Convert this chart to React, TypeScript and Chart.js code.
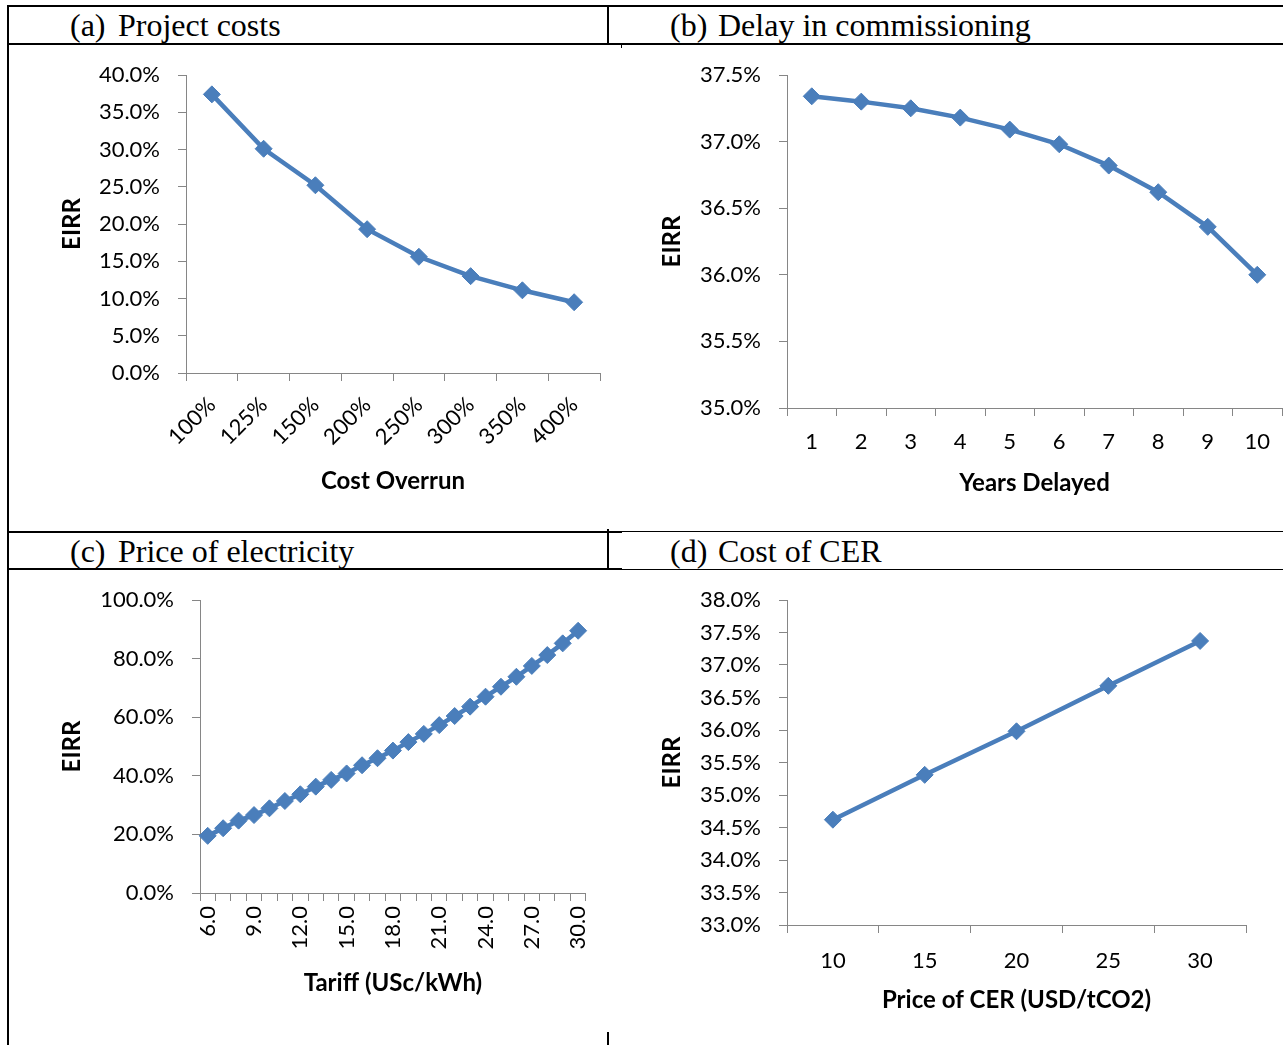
import React, { useEffect, useRef } from 'react';
import { Chart, registerables } from 'chart.js';

Chart.register(...registerables);

// ---------- Data ----------
const costLabels = ['100%', '125%', '150%', '200%', '250%', '300%', '350%', '400%'];
const costEirr = [37.4, 30.1, 25.2, 19.3, 15.6, 13.0, 11.1, 9.5];

const delayYears = ['1', '2', '3', '4', '5', '6', '7', '8', '9', '10'];
const delayEirr = [37.34, 37.30, 37.25, 37.18, 37.09, 36.98, 36.82, 36.62, 36.36, 36.0];

const tariffLabels = [
  '6.0', '7.0', '8.0', '9.0', '10.0', '11.0', '12.0', '13.0', '14.0', '15.0', '16.0', '17.0', '18.0',
  '19.0', '20.0', '21.0', '22.0', '23.0', '24.0', '25.0', '26.0', '27.0', '28.0', '29.0', '30.0',
];
const tariffEirr = [
  19.5, 22.1, 24.7, 26.6, 28.9, 31.4, 33.7, 36.3, 38.6, 40.8, 43.6, 46.0, 48.6,
  51.5, 54.3, 57.3, 60.4, 63.6, 67.0, 70.4, 73.8, 77.5, 81.2, 85.2, 89.5,
];

const cerPrice = ['10', '15', '20', '25', '30'];
const cerEirr = [34.62, 35.31, 35.98, 36.68, 37.37];

// ---------- Styles ----------
const BLUE = '#4a7ebb';
const AXIS = '#868686';
const FONT = 'Lato, "Open Sans", sans-serif';
const TICK_SIZE = 22;
const TITLE_SIZE = 24;
const TOP_PAD = 32;

type PanelProps = {
  left: number; top: number; width: number; height: number;
  labels: string[]; values: number[];
  yMin: number; yMax: number; yStep: number;
  yWidth: number; xHeight: number; padRight: number;
  yTitlePad: number; xTitlePad: number;
  xRotation: number; xTickPad: number; yTickPad: number;
  showEvery: number; xTitle: string;
};

function Panel(p: PanelProps) {
  const ref = useRef<HTMLCanvasElement>(null);
  useEffect(() => {
    const chart = new Chart(ref.current as HTMLCanvasElement, {
      type: 'line',
      data: {
        labels: p.labels,
        datasets: [{
          data: p.values,
          borderColor: BLUE,
          backgroundColor: BLUE,
          borderWidth: 4.5,
          pointStyle: 'rectRot',
          pointRadius: 8.5,
          pointBorderWidth: 1,
          pointBackgroundColor: BLUE,
          pointBorderColor: BLUE,
          tension: 0,
        }],
      },
      options: {
        responsive: false,
        animation: false,
        devicePixelRatio: 1,
        layout: { padding: { top: TOP_PAD, right: p.padRight, left: 0, bottom: 0 } },
        plugins: { legend: { display: false }, tooltip: { enabled: false } },
        scales: {
          x: {
            type: 'category',
            offset: true,
            grid: { offset: true, drawOnChartArea: false, drawTicks: true, tickLength: 8, color: AXIS },
            border: { color: AXIS, width: 1 },
            ticks: {
              autoSkip: false,
              minRotation: p.xRotation,
              maxRotation: p.xRotation,
              padding: p.xTickPad,
              color: '#000',
              font: { family: FONT, size: TICK_SIZE },
              callback: function (this: any, v: any, i: number) {
                return i % p.showEvery === 0 ? this.getLabelForValue(v) : '';
              },
            },
            title: {
              display: true, text: p.xTitle, color: '#000',
              font: { family: FONT, size: TITLE_SIZE, weight: 'bold' },
              padding: { top: 0, bottom: p.xTitlePad },
            },
            afterFit: (s: any) => { s.height = p.xHeight; },
          },
          y: {
            min: p.yMin,
            max: p.yMax,
            grid: { drawOnChartArea: false, drawTicks: true, tickLength: 8, color: AXIS },
            border: { color: AXIS, width: 1 },
            ticks: {
              stepSize: p.yStep,
              padding: p.yTickPad,
              color: '#000',
              font: { family: FONT, size: TICK_SIZE },
              callback: (v: any) => Number(v).toFixed(1) + '%',
            },
            title: {
              display: true, text: 'EIRR', color: '#000',
              font: { family: FONT, size: TITLE_SIZE, weight: 'bold' },
              padding: { top: p.yTitlePad, bottom: 0 },
            },
            afterFit: (s: any) => { s.width = p.yWidth; },
          },
        },
      } as any,
    });
    return () => chart.destroy();
  }, []);
  return (
    <canvas
      ref={ref}
      width={p.width}
      height={p.height}
      style={{ position: 'absolute', left: p.left, top: p.top, width: p.width, height: p.height }}
    />
  );
}

function Line({ x, y, w, h }: { x: number; y: number; w: number; h: number }) {
  return <div style={{ position: 'absolute', left: x, top: y, width: w, height: h, background: '#000' }} />;
}

function Head({ x, y, text }: { x: number; y: number; text: string }) {
  return (
    <div style={{
      position: 'absolute', left: x, top: y, fontFamily: '"Liberation Serif", "Times New Roman", serif',
      fontSize: 32, lineHeight: '32px', whiteSpace: 'nowrap', color: '#000',
    }}>{text}</div>
  );
}

export default function App() {
  return (
    <div style={{ position: 'absolute', left: 0, top: 0, width: 1283, height: 1045, overflow: 'hidden', background: '#fff' }}>
      {/* table lines */}
      <Line x={7} y={5} w={1276} h={2} />
      <Line x={7} y={5} w={2} h={1040} />
      <Line x={607} y={5} w={2} h={39} />
      <Line x={7} y={43} w={1276} h={2} />
      <Line x={621} y={45} w={1} h={3} />
      <Line x={7} y={531} w={615} h={2} />
      <Line x={622} y={531} w={661} h={1} />
      <Line x={607} y={529} w={2} h={41} />
      <Line x={7} y={568} w={615} h={2} />
      <Line x={622} y={569} w={661} h={1} />
      <Line x={607} y={1032} w={2} h={13} />

      <Head x={70} y={9} text="(a)" />
      <Head x={118} y={9} text="Project costs" />
      <Head x={670} y={9} text="(b)" />
      <Head x={718} y={9} text="Delay in commissioning" />
      <Head x={70} y={535} text="(c)" />
      <Head x={118} y={535} text="Price of electricity" />
      <Head x={670} y={535} text="(d)" />
      <Head x={718} y={535} text="Cost of CER" />

      <Panel left={10} top={43} width={600} height={467}
        labels={costLabels} values={costEirr}
        yMin={0} yMax={40} yStep={5}
        yWidth={176} xHeight={137} padRight={10}
        yTitlePad={47.6} xTitlePad={14.6}
        xRotation={45} xTickPad={11} yTickPad={18}
        showEvery={1} xTitle="Cost Overrun" />
      <Panel left={620} top={43} width={672} height={467}
        labels={delayYears} values={delayEirr}
        yMin={35} yMax={37.5} yStep={0.5}
        yWidth={167} xHeight={102} padRight={10}
        yTitlePad={37.6} xTitlePad={12.6}
        xRotation={0} xTickPad={13} yTickPad={18}
        showEvery={1} xTitle="Years Delayed" />
      <Panel left={10} top={568} width={600} height={467}
        labels={tariffLabels} values={tariffEirr}
        yMin={0} yMax={100} yStep={20}
        yWidth={190} xHeight={142} padRight={23}
        yTitlePad={47.6} xTitlePad={37.6}
        xRotation={90} xTickPad={5} yTickPad={18}
        showEvery={3} xTitle="Tariff (USc/kWh)" />
      <Panel left={620} top={568} width={663} height={477}
        labels={cerPrice} values={cerEirr}
        yMin={33} yMax={38} yStep={0.5}
        yWidth={167} xHeight={120} padRight={37}
        yTitlePad={37.6} xTitlePad={30.6}
        xRotation={0} xTickPad={15} yTickPad={18}
        showEvery={1} xTitle="Price of CER (USD/tCO2)" />
    </div>
  );
}
